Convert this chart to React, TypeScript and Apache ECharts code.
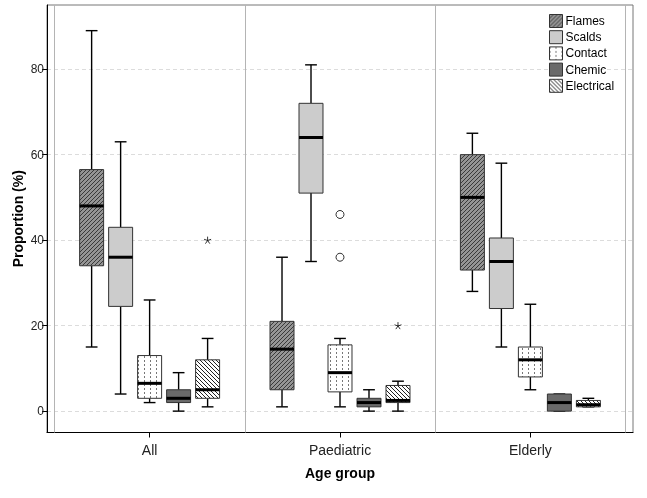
import React, { useEffect, useRef } from 'react';
import * as echarts from 'echarts';

// ---- data ----
const groups = ['All', 'Paediatric', 'Elderly'];
const causes = ['Flames', 'Scalds', 'Contact', 'Chemic', 'Electrical'];

// per age group: [min, Q1, median, Q3, max]
const flames = [[15, 34, 48, 56.5, 89], [1, 5, 14.5, 21, 36], [28, 33, 50, 60, 65]];
const scalds = [[4, 24.5, 36, 43, 63], [35, 51, 64, 72, 81], [15, 24, 35, 40.5, 58]];
const contact = [[2, 3, 6.5, 13, 26], [1, 4.5, 9, 15.5, 17], [5, 8, 12, 15, 25]];
const chemic = [[0, 2, 3, 5, 9], [0, 1, 2, 3, 5], [0, 0, 2, 4, 4]];
const electrical = [[1, 3, 5, 12, 17], [0, 2, 2.5, 6, 7], [1, 1, 1.5, 2.5, 3]];

// outliers: [groupIndex, causeIndex, value]
const circleOutliers = [[1, 2, 46], [1, 2, 36]];
const starOutliers = [[0, 4, 40], [1, 4, 20]];

const yTicks = [0, 20, 40, 60, 80];
const bandEdges = [-0.5, 0.5, 1.5, 2.5];

// ---- layout (category units) ----
const SLOT = 0.1523;
const BOX_W = 0.126;
const CAP_RATIO = 0.49;
const PAD = 0.039;
const offsetOf = (ci: number) => (ci - 2) * SLOT;

function makePattern(w: number, h: number, bg: string, draw: (ctx: CanvasRenderingContext2D) => void) {
  const c = document.createElement('canvas');
  c.width = w;
  c.height = h;
  const ctx = c.getContext('2d') as CanvasRenderingContext2D;
  ctx.fillStyle = bg;
  ctx.fillRect(0, 0, w, h);
  draw(ctx);
  return { image: c, repeat: 'repeat', imageWidth: w, imageHeight: h } as any;
}

export default function App() {
  const ref = useRef<HTMLDivElement>(null);
  useEffect(() => {
    if (!ref.current) return;
    const chart = echarts.init(ref.current, undefined, { renderer: 'svg' });

    const flamesFill = makePattern(4, 4, '#959595', (ctx) => {
      ctx.fillStyle = '#3a3a3a';
      for (let i = 0; i < 4; i++) ctx.fillRect(i, 3 - i, 1, 1);
    });
    const contactFill = makePattern(6, 4, '#ffffff', (ctx) => {
      ctx.fillStyle = '#777777';
      ctx.fillRect(0, 0, 1, 2);
    });
    const electricalFill = makePattern(4, 4, '#ffffff', (ctx) => {
      ctx.fillStyle = '#222222';
      for (let i = 0; i < 4; i++) ctx.fillRect(i, i, 1, 1);
    });
    const fills: any[] = [flamesFill, '#cccccc', contactFill, '#6a6a6a', electricalFill];
    const stats = [flames, scalds, contact, chemic, electrical];

    const boxSeries = causes.map((name, ci) => ({
      name,
      type: 'custom',
      itemStyle: { color: fills[ci], borderColor: '#333', borderWidth: 1 },
      encode: { x: 0, y: [1, 2, 3, 4, 5] },
      data: stats[ci].map((s, gi) => [gi, ...s]),
      renderItem: (params: any, api: any) => {
        const cx = api.value(0) + offsetOf(ci);
        const xc = api.coord([cx, 0])[0];
        const half = api.size([BOX_W, 0])[0] / 2;
        const capHalf = half * CAP_RATIO;
        const y = (v: number) => api.coord([cx, v])[1];
        const yMin = y(api.value(1));
        const yQ1 = y(api.value(2));
        const yMed = y(api.value(3));
        const yQ3 = y(api.value(4));
        const yMax = y(api.value(5));
        const ws = { stroke: '#000', lineWidth: 1.4 };
        return {
          type: 'group',
          children: [
            { type: 'line', shape: { x1: xc, y1: yMax, x2: xc, y2: yQ3 }, style: ws },
            { type: 'line', shape: { x1: xc, y1: yQ1, x2: xc, y2: yMin }, style: ws },
            { type: 'line', shape: { x1: xc - capHalf, y1: yMax, x2: xc + capHalf, y2: yMax }, style: ws },
            { type: 'line', shape: { x1: xc - capHalf, y1: yMin, x2: xc + capHalf, y2: yMin }, style: ws },
            {
              type: 'rect',
              shape: { x: xc - half, y: yQ3, width: half * 2, height: yQ1 - yQ3 },
              style: { fill: fills[ci], stroke: '#333', lineWidth: 1 },
            },
            { type: 'line', shape: { x1: xc - half, y1: yMed, x2: xc + half, y2: yMed }, style: { stroke: '#000', lineWidth: 3 } },
          ],
        };
      },
    }));

    const starPath = 'path://M5,0 L5,5 M9.76,3.45 L5,5 M7.94,9.05 L5,5 M2.06,9.05 L5,5 M0.24,3.45 L5,5';

    const font = 'Liberation Sans, Arial, sans-serif';
    chart.setOption({
      animation: false,
      textStyle: { fontFamily: font },
      grid: {
        left: 47, right: 14, top: 5, bottom: 65.5,
        show: true, borderColor: '#777', borderWidth: 1,
        containLabel: false, outerBoundsMode: 'none',
      },
      legend: {
        data: causes.map((n, ci) => ({ name: n, itemStyle: { color: fills[ci], borderColor: '#333', borderWidth: 1 } })),
        orient: 'vertical',
        left: 549,
        top: 14,
        padding: 0,
        itemWidth: 13,
        itemHeight: 13,
        itemGap: 2.2,
        icon: 'rect',
        selectedMode: false,
        textStyle: { fontSize: 12, color: '#000', fontFamily: font, lineHeight: 13, padding: [0, 0, 0, -2] },
      },
      xAxis: {
        type: 'value',
        min: -0.5 - PAD,
        max: 2.5 + PAD,
        name: 'Age group',
        nameLocation: 'middle',
        nameGap: 33,
        nameMoveOverlap: false,
        nameTextStyle: { fontSize: 14, fontWeight: 'bold', color: '#000', fontFamily: font },
        axisLine: { show: true, onZero: false, lineStyle: { color: '#000', width: 1 } },
        axisTick: { show: true, customValues: [0, 1, 2], length: 5, lineStyle: { color: '#000' } },
        axisLabel: {
          customValues: [0, 1, 2],
          formatter: (v: number) => groups[Math.round(v)],
          fontSize: 14,
          color: '#222',
          margin: 10,
          fontFamily: font,
        },
        splitLine: { show: false },
      },
      yAxis: {
        type: 'value',
        min: -5,
        max: 95,
        name: 'Proportion (%)',
        nameLocation: 'middle',
        nameGap: 22,
        nameMoveOverlap: false,
        nameTextStyle: { fontSize: 14, fontWeight: 'bold', color: '#000', fontFamily: font },
        axisLine: { show: true, onZero: false, lineStyle: { color: '#000', width: 1 } },
        axisTick: { show: true, customValues: yTicks, length: 5, lineStyle: { color: '#000' } },
        axisLabel: { customValues: yTicks, fontSize: 12, color: '#222', margin: 3, fontFamily: font },
        splitLine: { show: true, lineStyle: { color: '#dcdcdc', type: [4, 3], width: 1 } },
      },
      series: [
        ...boxSeries,
        {
          name: 'outlierCircle',
          type: 'scatter',
          symbol: 'circle',
          symbolSize: 8,
          itemStyle: { color: '#fff', borderColor: '#000', borderWidth: 1 },
          data: circleOutliers.map(([g, c, v]) => [g + offsetOf(c), v]),
          z: 5,
          markLine: {
            silent: true,
            symbol: 'none',
            label: { show: false },
            lineStyle: { color: '#b4b4b4', type: 'solid', width: 1 },
            data: bandEdges.map((v) => ({ xAxis: v })),
            z: 1,
          },
        },
        {
          name: 'outlierStar',
          type: 'scatter',
          symbol: starPath,
          symbolSize: 7,
          itemStyle: { color: 'none', borderColor: '#000', borderWidth: 1 },
          data: starOutliers.map(([g, c, v]) => [g + offsetOf(c), v]),
          z: 5,
        },
      ],
    });
    return () => chart.dispose();
  }, []);
  return <div ref={ref} style={{ position: 'fixed', left: 0, top: 0, width: 647, height: 498 }} />;
}
